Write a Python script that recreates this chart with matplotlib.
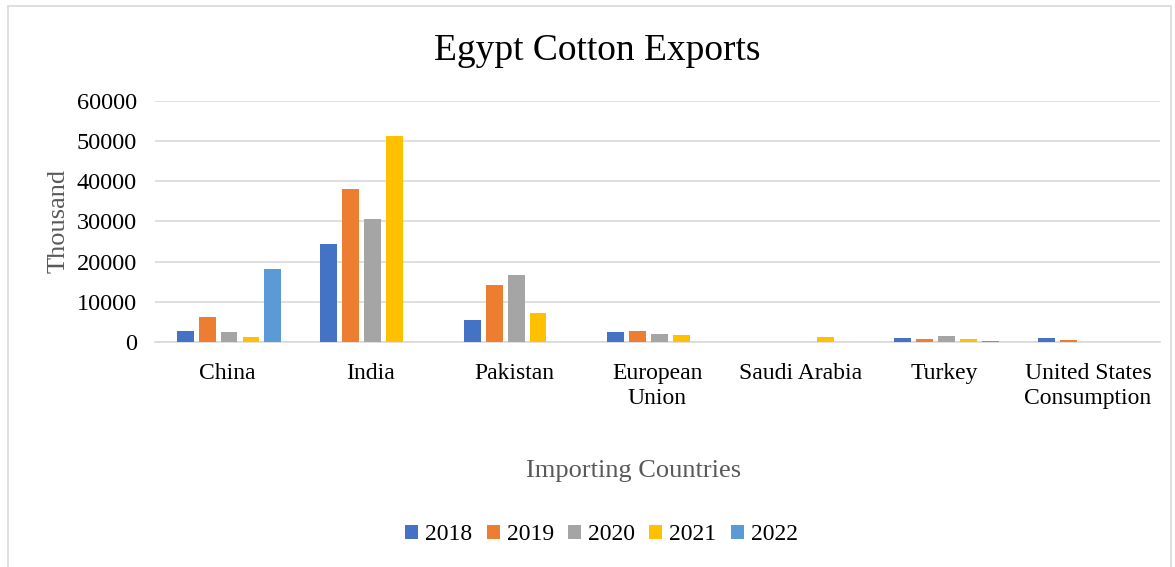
import matplotlib.pyplot as plt
import numpy as np
from matplotlib.patches import Rectangle

plt.rcParams['font.family'] = ['Liberation Serif', 'DejaVu Serif']

# Data
countries = ['China', 'India', 'Pakistan', 'European\nUnion', 'Saudi Arabia',
             'Turkey', 'United States\nConsumption']
years = ['2018', '2019', '2020', '2021', '2022']
v2018 = [2700, 24300, 5500, 2350, 0, 920, 850]
v2019 = [6150, 38000, 14200, 2660, 0, 600, 430]
v2020 = [2560, 30500, 16600, 1920, 50, 1500, 60]
v2021 = [1320, 51200, 7100, 1670, 1100, 750, 60]
v2022 = [18170, 0, 0, 0, 60, 200, 60]
series = [v2018, v2019, v2020, v2021, v2022]
colors = ['#4472C4', '#ED7D31', '#A5A5A5', '#FFC000', '#5B9BD5']

fig = plt.figure(figsize=(11.75, 5.67), dpi=100)
ax = fig.add_axes([0.132, 0.397, 0.855, 0.425])

x = np.arange(len(countries))
slot = 0.153
for i, (vals, c, yr) in enumerate(zip(series, colors, years)):
    ax.bar(x + (i - 2) * slot + 0.015, vals, width=0.118, color=c, label=yr, zorder=3)

ax.set_xlim(-0.5, len(countries) - 0.5)
ax.set_ylim(0, 60000)
ax.set_yticks(range(0, 60001, 10000))
ax.set_xticks(x)
ax.set_xticklabels(countries, fontsize=17, linespacing=1.25)
ax.tick_params(axis='y', labelsize=17.5, length=0, pad=13)
ax.tick_params(axis='x', length=0, pad=15)
ax.grid(axis='y', color='#D9D9D9', linewidth=1.2, zorder=0)
for s in ['top', 'right', 'left']:
    ax.spines[s].set_visible(False)
ax.spines['bottom'].set_color('#D9D9D9')
ax.spines['bottom'].set_linewidth(1.2)

fig.text(0.508, 0.91, 'Egypt Cotton Exports', fontsize=27, ha='center', va='center')
fig.text(0.05, 0.61, 'Thousand', fontsize=19, color='#595959', rotation=90,
         ha='center', va='center')
fig.text(0.539, 0.17, 'Importing Countries', fontsize=19, color='#595959',
         ha='center', va='center')

fig.legend(*ax.get_legend_handles_labels(), loc='center', bbox_to_anchor=(0.512, 0.057),
           ncol=5, frameon=False, fontsize=17, handlelength=0.55, handleheight=0.55,
           handletextpad=0.3, columnspacing=0.6)

fig.patches.append(Rectangle((0.007, -0.01), 0.99, 1.0, transform=fig.transFigure,
                             fill=False, edgecolor='#D9D9D9', linewidth=1.2))

fig.savefig('out.png', dpi=100)
